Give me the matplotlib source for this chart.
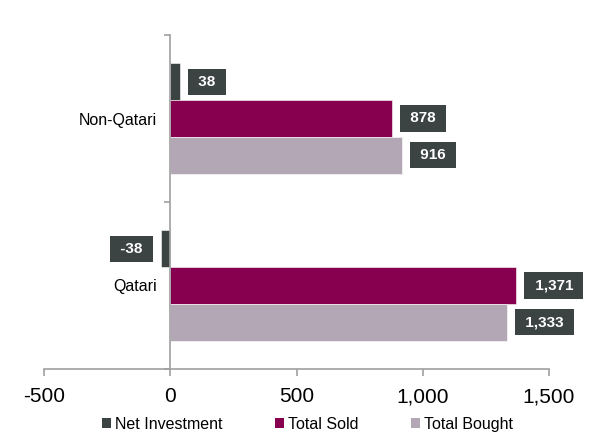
import matplotlib
matplotlib.use("Agg")
import matplotlib.pyplot as plt
import numpy as np
from matplotlib.patches import Patch

plt.rcParams['font.family'] = ['Liberation Sans', 'DejaVu Sans']

categories = ["Qatari", "Non-Qatari"]
net_investment = [-38, 38]
total_sold = [1371, 878]
total_bought = [1333, 916]
series_names = ["Net Investment", "Total Sold", "Total Bought"]
colors = ["#3b4443", "#870050", "#b3a7b5"]
label_bg = "#3b4443"
xticks = [-500, 0, 500, 1000, 1500]
xtick_labels = ["-500", "0", "500", "1,000", "1,500"]

fig = plt.figure(figsize=(5.91, 4.34), dpi=100)
ax = fig.add_axes([44/591, 1-369/434, 505/591, 334/434])

y = np.arange(len(categories))
h = 0.22
series = [net_investment, total_sold, total_bought]
offsets = [h, 0, -h]
for vals, off, col in zip(series, offsets, colors):
    ax.barh(y + off, vals, height=h, color=col, edgecolor='white', linewidth=0.4)
    for yi, v in zip(y, vals):
        txt = " " + f"{v:,}" + " "
        if v >= 0:
            ax.annotate(txt, xy=(v, yi + off), xytext=(10.2, 0), textcoords='offset points',
                        ha='left', va='center', color='white', fontsize=11, fontweight='bold',
                        bbox=dict(boxstyle='square,pad=0.4', fc=label_bg, ec='none'))
        else:
            ax.annotate(txt, xy=(v, yi + off), xytext=(-10.2, 0), textcoords='offset points',
                        ha='right', va='center', color='white', fontsize=11, fontweight='bold',
                        bbox=dict(boxstyle='square,pad=0.4', fc=label_bg, ec='none'))

ax.set_xlim(-500, 1500)
ax.set_ylim(-0.5, 1.5)
ax.set_xticks(xticks)
ax.set_xticklabels(xtick_labels)
ax.set_yticks([-0.5, 0.5, 1.5])
ax.set_yticklabels([])
ax.set_yticks(y, minor=True)
ax.set_yticklabels(categories, minor=True)
ax.tick_params(axis='y', which='minor', length=0, pad=9.4, labelsize=11.5)
ax.tick_params(axis='y', which='major', length=4, color='#a0a0a0', width=1.2)
ax.tick_params(axis='x', length=5, color='#a0a0a0', width=1.2, pad=8, labelsize=15)

for s in ['top', 'right']:
    ax.spines[s].set_visible(False)
ax.spines['left'].set_position(('data', 0))
for s in ['left', 'bottom']:
    ax.spines[s].set_color('#a0a0a0')
    ax.spines[s].set_linewidth(1.2)

handles = [Patch(facecolor=c, edgecolor='none') for c in colors]
fig.legend(handles, series_names, loc='center', bbox_to_anchor=(0.52, 0.022), ncol=3,
           frameon=False, fontsize=11.5, handlelength=0.55, handleheight=0.55,
           handletextpad=0.25, columnspacing=3.3, borderpad=0)

fig.savefig("out.png", dpi=100)
